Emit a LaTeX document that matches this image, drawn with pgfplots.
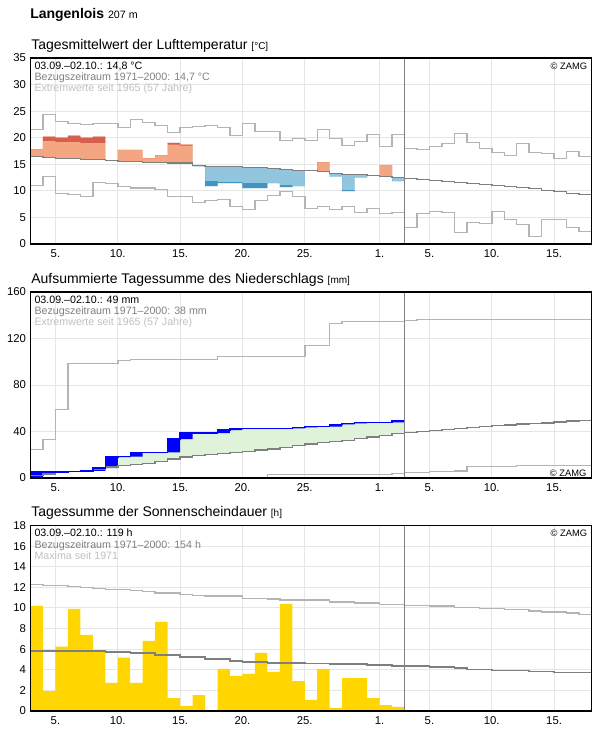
\documentclass[border=0pt]{standalone}
\usepackage{fontspec}
\setmainfont{Liberation Sans}
\usepackage{pgfplots}
\usepackage{pgfplotstable}
\pgfplotsset{compat=1.18}
\usepgfplotslibrary{fillbetween}

\definecolor{warm}{HTML}{F4A582}
\definecolor{warmdark}{HTML}{D6604D}
\definecolor{cold}{HTML}{92C5DE}
\definecolor{colddark}{HTML}{4393C3}
\definecolor{refline}{HTML}{7F7F7F}
\definecolor{extline}{HTML}{B4B4B4}
\definecolor{gridline}{HTML}{E6E6E6}
\definecolor{reftext}{HTML}{808080}
\definecolor{exttext}{HTML}{C0C0C0}
\definecolor{rain}{HTML}{0000FF}
\definecolor{wet}{HTML}{DFF2DA}
\definecolor{sun}{HTML}{FFD600}

% x = day counted from 1 September (31 = 1 October); each value holds for [day, day+1)
% last row of every table only closes the final step

% air temperature climatology: 1971-2000 mean, extremes since 1965
\pgfplotstableread{
day mean max min
3 16.50 21.55 11.00
4 16.30 24.40 12.66
5 16.10 23.06 9.50
6 16.10 22.70 9.30
7 15.90 22.50 8.96
8 15.90 22.70 11.60
9 15.70 22.70 11.40
10 15.50 21.90 10.80
11 15.50 23.40 10.50
12 15.35 22.90 10.50
13 15.35 22.30 10.30
14 15.20 21.00 8.96
15 15.20 21.90 8.96
16 14.80 22.10 7.80
17 14.60 22.30 8.20
18 14.60 21.90 8.40
19 14.60 20.40 7.10
20 14.40 22.70 6.50
21 14.40 21.20 8.20
22 14.20 21.20 9.10
23 14.00 19.50 9.90
24 13.85 19.86 8.96
25 13.85 19.50 6.70
26 13.66 21.55 7.10
27 13.28 19.86 6.50
28 13.10 18.55 7.10
29 13.10 19.30 5.95
30 12.90 20.60 6.70
31 12.70 18.36 5.76
32 12.50 20.60 5.95
33 12.34 17.98 3.13
34 12.16 17.80 5.76
35 11.97 18.36 6.14
36 11.78 18.90 5.95
37 11.60 20.80 2.19
38 11.40 19.10 4.07
39 11.20 17.98 3.88
40 11.00 17.20 6.14
41 10.84 16.67 4.64
42 10.65 18.90 3.70
43 10.46 17.20 1.44
44 10.09 17.00 4.64
45 9.90 16.10 4.64
46 9.52 17.40 3.13
47 9.34 16.50 2.38
48 9.34 16.50 2.38
}\tempref

% observed daily means split into warm/cold parts; *cap marks where the dark band starts
\pgfplotstableread{
day mean hi hicap lo locap
3 16.50 17.86 17.86 16.50 16.50
4 16.30 20.20 19.40 16.30 16.30
5 16.10 20.00 19.20 16.10 16.10
6 16.10 20.40 19.20 16.10 16.10
7 15.90 20.00 19.05 15.90 15.90
8 15.90 20.20 19.05 15.90 15.90
9 15.70 15.70 15.70 15.70 15.70
10 15.50 17.70 17.70 15.50 15.50
11 15.50 17.70 17.70 15.50 15.50
12 15.35 16.17 16.17 15.35 15.35
13 15.35 16.73 16.73 15.35 15.35
14 15.20 19.05 18.70 15.20 15.20
15 15.20 18.70 18.50 15.20 15.20
16 14.80 14.80 14.80 14.60 14.60
17 14.60 14.60 14.60 10.90 11.84
18 14.60 14.60 14.60 11.47 11.65
19 14.60 14.60 14.60 11.47 11.65
20 14.40 14.40 14.40 10.50 11.47
21 14.40 14.40 14.40 10.50 11.47
22 14.20 14.20 14.20 11.47 11.47
23 14.00 14.00 14.00 10.71 11.09
24 13.85 13.85 13.85 10.90 10.90
25 13.85 13.85 13.85 13.85 13.85
26 13.66 15.40 15.40 13.66 13.66
27 13.28 13.28 13.28 12.66 12.66
28 13.10 13.10 13.10 9.96 10.15
29 13.10 13.10 13.10 12.47 12.47
30 12.90 12.90 12.90 12.90 12.90
31 12.70 14.85 14.85 12.70 12.70
32 12.50 12.50 12.50 11.84 11.84
33 12.50 12.50 12.50 11.84 11.84
}\tempobs

% accumulated precipitation climatology
\pgfplotstableread{
day mean max min
3 2.0 24.6 0
4 3.4 33.2 0
5 4.6 59.0 0
6 5.7 98.4 0
7 6.6 98.4 0
8 7.7 98.4 0
9 9.5 98.4 0
10 10.6 101.0 0
11 11.5 101.9 0
12 12.6 101.9 0
13 14.3 101.9 0
14 16.3 101.9 0
15 18.0 101.9 0
16 19.2 101.9 0
17 20.3 101.9 0
18 21.2 104.4 0
19 22.0 104.4 0
20 22.9 104.4 0
21 24.1 104.4 0
22 24.9 104.4 3.0
23 26.1 104.4 3.0
24 27.8 104.4 3.0
25 29.2 113.9 3.0
26 30.6 113.9 3.0
27 31.5 132.8 3.0
28 32.4 134.5 3.0
29 33.8 134.5 3.0
30 35.2 134.5 3.0
31 36.4 134.5 3.0
32 38.1 134.5 4.0
33 39.2 135.3 4.6
34 40.1 136.2 4.6
35 41.0 136.2 5.7
36 41.8 136.2 5.7
37 42.7 136.2 6.0
38 43.6 136.2 10.0
39 44.5 136.2 10.0
40 45.1 136.2 10.0
41 45.7 136.2 10.0
42 46.4 136.2 10.9
43 47.1 136.2 10.9
44 47.4 136.2 10.9
45 48.1 136.2 10.9
46 48.9 136.2 10.9
47 49.6 136.2 10.9
48 49.6 136.2 10.9
}\precref

% observed accumulated precipitation (cum) and the total of the day before (prev)
\pgfplotstableread{
day cum prev
3 5.2 0.0
4 5.2 5.2
5 5.2 5.2
6 5.6 5.2
7 6.2 5.6
8 8.6 6.2
9 18.0 8.6
10 18.4 18.0
11 22.0 18.4
12 22.0 22.0
13 22.0 22.0
14 33.5 22.0
15 38.6 33.5
16 38.6 38.6
17 38.6 38.6
18 41.2 38.6
19 42.7 41.2
20 42.7 42.7
21 42.7 42.7
22 42.7 42.7
23 42.7 42.7
24 43.5 42.7
25 44.3 43.5
26 44.3 44.3
27 46.2 44.3
28 47.0 46.2
29 47.8 47.0
30 47.8 47.8
31 47.8 47.8
32 49.6 47.8
33 49.6 47.8
}\precobs

% daily sunshine duration
\pgfplotstableread{
day h
3 10.20
4 1.94
5 6.25
6 9.90
7 7.38
8 5.83
9 2.72
10 5.18
11 2.72
12 6.80
13 8.64
14 1.26
15 0.49
16 1.55
17 0
18 4.08
19 3.40
20 3.60
21 5.63
22 3.79
23 10.40
24 2.90
25 1.07
26 4.08
27 0.29
28 3.20
29 3.20
30 1.26
31 0.58
32 0.39
33 0
}\sunobs

% sunshine climatology: 1971-2000 mean, maxima since 1971
\pgfplotstableread{
day mean max
3 5.83 12.30
4 5.83 12.20
5 5.83 12.20
6 5.83 12.10
7 5.83 12.00
8 5.83 11.90
9 5.73 11.80
10 5.73 11.80
11 5.63 11.70
12 5.63 11.60
13 5.44 11.43
14 5.44 11.43
15 5.24 11.33
16 5.24 11.23
17 5.05 11.14
18 5.05 11.14
19 4.86 11.14
20 4.76 10.94
21 4.76 10.94
22 4.66 10.85
23 4.66 10.75
24 4.66 10.75
25 4.63 10.75
26 4.63 10.75
27 4.56 10.59
28 4.56 10.59
29 4.56 10.49
30 4.47 10.49
31 4.47 10.36
32 4.37 10.36
33 4.37 10.26
34 4.37 10.26
35 4.27 10.17
36 4.27 10.17
37 4.18 10.04
38 4.01 10.04
39 4.01 9.94
40 3.92 9.94
41 3.92 9.84
42 3.92 9.84
43 3.82 9.71
44 3.82 9.61
45 3.76 9.61
46 3.76 9.49
47 3.76 9.39
48 3.76 9.39
}\sunref

\pgfplotsset{
  panel/.style={
    anchor=north west,
    scale only axis,
    width=420.75pt,
    height=139.5pt,
    xmin=3, xmax=48,
    xtick={5,10,15,20,25,31,35,40,45},
    xticklabels={5.,10.,15.,20.,25.,1.,5.,10.,15.},
    major tick length=0pt,
    grid=major,
    major grid style={draw=gridline, line width=0.75pt},
    axis line style={draw=none},
    tick label style={font=\fontsize{8.5}{10}\selectfont},
    xticklabel style={inner sep=0pt, anchor=north, yshift=-4.3pt},
    yticklabel style={inner sep=0pt, anchor=east, xshift=-3.2pt},
    /pgf/number format/assume math mode=true,
  },
  stairs/.style={const plot mark left, mark=none, line width=1.1pt},
  hidden/.style={const plot mark left, mark=none, draw=none, forget plot},
}
\tikzset{
  txt/.style={anchor=base west, inner sep=0pt, font=\fontsize{8}{9.6}\selectfont},
  ttl/.style={anchor=base west, inner sep=0pt, font=\fontsize{10.5}{12}\selectfont},
  zamg/.style={anchor=base east, inner sep=0pt, font=\fontsize{7}{8}\selectfont},
}

\begin{document}
\begin{tikzpicture}

\node[anchor=base west, inner sep=0pt, font=\fontsize{10.5}{12}\selectfont\bfseries]
  at (22.5pt,-13.75pt) {Langenlois {\mdseries\fontsize{8}{10}\selectfont 207 m}};

% ---------------- air temperature ----------------
\node[ttl] at (23.25pt,-37pt) {Tagesmittelwert der Lufttemperatur {\fontsize{7.5}{9}\selectfont [°C]}};
\begin{axis}[panel, name=p1, at={(22.875pt,-43.5pt)},
  ymin=0, ymax=35, ytick={0,5,...,35}]
  \addplot[hidden, name path=tm] table[x=day, y=mean] {\tempobs};
  \addplot[hidden, name path=thi] table[x=day, y=hi] {\tempobs};
  \addplot[hidden, name path=thc] table[x=day, y=hicap] {\tempobs};
  \addplot[hidden, name path=tlo] table[x=day, y=lo] {\tempobs};
  \addplot[hidden, name path=tlc] table[x=day, y=locap] {\tempobs};
  \addplot[fill=warm, draw=none] fill between[of=tm and thi];
  \addplot[fill=warmdark, draw=none] fill between[of=thc and thi];
  \addplot[fill=cold, draw=none] fill between[of=tm and tlo];
  \addplot[fill=colddark, draw=none] fill between[of=tlc and tlo];
  \addplot[stairs, extline] table[x=day, y=max] {\tempref};
  \addplot[stairs, extline] table[x=day, y=min] {\tempref};
  \addplot[stairs, refline] table[x=day, y=mean] {\tempref};
  \addplot[refline, line width=1pt] coordinates {(33,0) (33,35)};
\end{axis}
\draw[line width=1.1pt] (p1.south west) rectangle (p1.north east);
\node[txt] at (25.7pt,-51.75pt) {03.09.–02.10.: 14,8 °C};
\node[txt, text=reftext] at (25.7pt,-60.2pt) {Bezugszeitraum 1971–2000: 14,7 °C};
\node[txt, text=exttext] at (25.7pt,-68.7pt) {Extremwerte seit 1965 (57 Jahre)};
\node[zamg] at (440.5pt,-51.75pt) {© ZAMG};

% ---------------- precipitation ----------------
\node[ttl] at (23.25pt,-212.5pt) {Aufsummierte Tagessumme des Niederschlags {\fontsize{7.5}{9}\selectfont [mm]}};
\begin{axis}[panel, name=p2, at={(22.875pt,-219pt)},
  ymin=0, ymax=160, ytick={0,40,...,160}]
  \addplot[hidden, name path=pm] table[x=day, y=mean] {\precref};
  \addplot[hidden, name path=pc] table[x=day, y=cum] {\precobs};
  \addplot[hidden, name path=pp] table[x=day, y=prev] {\precobs};
  \addplot[fill=wet, draw=none] fill between[of=pm and pc, soft clip={domain=3:33}];
  \addplot[fill=rain, draw=none] fill between[of=pp and pc];
  \addplot[stairs, extline] table[x=day, y=max] {\precref};
  \addplot[stairs, extline] table[x=day, y=min] {\precref};
  \addplot[stairs, refline] table[x=day, y=mean] {\precref};
  \addplot[stairs, rain] table[x=day, y=cum] {\precobs};
  \addplot[refline, line width=1pt] coordinates {(33,0) (33,160)};
\end{axis}
\node[zamg, fill=white, inner xsep=3pt, inner ysep=1pt] at (443pt,-357pt) {© ZAMG};
\draw[line width=1.1pt] (p2.south west) rectangle (p2.north east);
\node[txt] at (25.7pt,-227.5pt) {03.09.–02.10.: 49 mm};
\node[txt, text=reftext] at (25.7pt,-236pt) {Bezugszeitraum 1971–2000: 38 mm};
\node[txt, text=exttext] at (25.7pt,-244.4pt) {Extremwerte seit 1965 (57 Jahre)};

% ---------------- sunshine ----------------
\node[ttl] at (23.25pt,-387.5pt) {Tagessumme der Sonnenscheindauer {\fontsize{7.5}{9}\selectfont [h]}};
\begin{axis}[panel, name=p3, at={(22.875pt,-394.125pt)}, height=139.125pt,
  ymin=0, ymax=18, ytick={0,2,...,18}]
  \addplot[ybar interval, fill=sun, draw=none] table[x=day, y=h] {\sunobs};
  \addplot[stairs, extline] table[x=day, y=max] {\sunref};
  \addplot[stairs, refline] table[x=day, y=mean] {\sunref};
  \addplot[refline, line width=1pt] coordinates {(33,0) (33,18)};
\end{axis}
\draw[line width=1.1pt] (p3.south west) rectangle (p3.north east);
\node[txt] at (25.7pt,-402.5pt) {03.09.–02.10.: 119 h};
\node[txt, text=reftext] at (25.7pt,-411pt) {Bezugszeitraum 1971–2000: 154 h};
\node[txt, text=exttext] at (25.7pt,-419.5pt) {Maxima seit 1971};
\node[zamg] at (440.5pt,-402.5pt) {© ZAMG};

% page size
\pgfresetboundingbox
\useasboundingbox (0,0) rectangle (447pt,-546.75pt);
\end{tikzpicture}
\end{document}
